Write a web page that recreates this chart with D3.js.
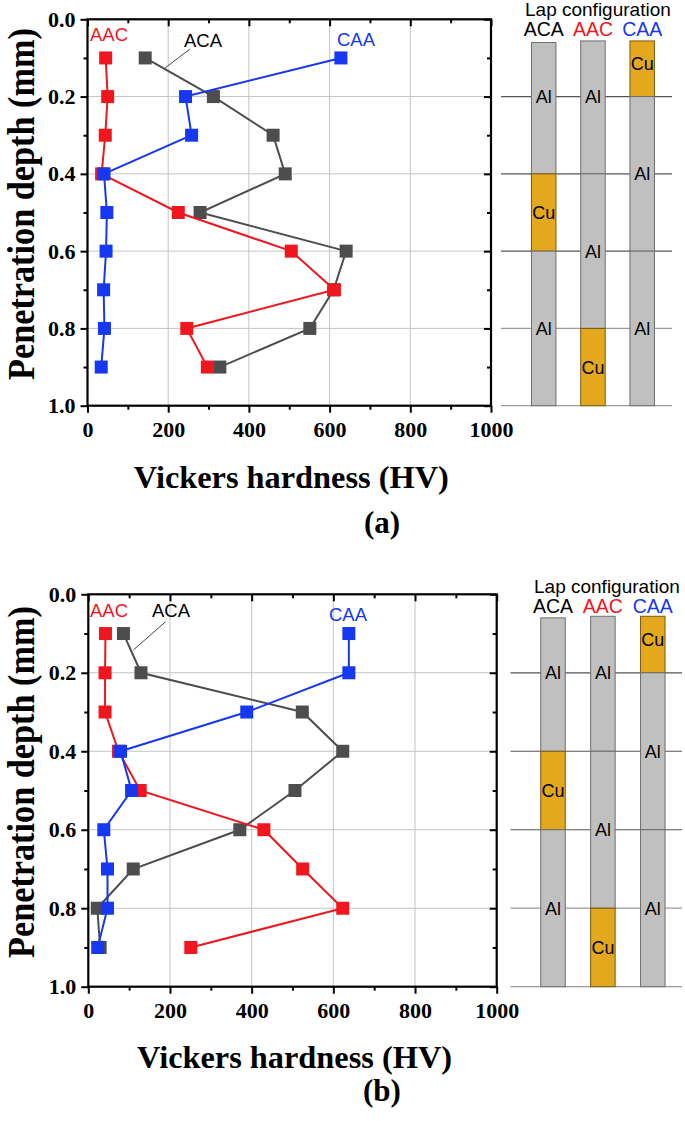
<!DOCTYPE html>
<html>
<head>
<meta charset="utf-8">
<script src="https://cdn.jsdelivr.net/npm/d3@7/dist/d3.min.js"></script>
<style>
  html, body { margin: 0; padding: 0; background: #fff; }
  svg { display: block; }
  .serif { font-family: "Liberation Serif", "Times New Roman", serif; font-weight: bold; }
  .sans { font-family: "Liberation Sans", Arial, sans-serif; }
</style>
</head>
<body>
<svg id="chart" width="685" height="1121"></svg>
<script>
// ---------------- DATA ----------------
const depths = [0.1, 0.2, 0.3, 0.4, 0.5, 0.6, 0.7, 0.8, 0.9];

// Panel (a)
const aACA = [143, 312, 460, 490, 279, 641, 610, 551, 328];
const aAAC = [45, 50, 44, 35, 225, 505, 612, 246, 297];
const aCAA = [628, 243, 258, 41, 48, 46, 40, 42, 34];

// Panel (b)
const bACA = [86, 129, 524, 623, 506, 371, 110, 22, 29];
const bAAC = [42, 41, 41, 74, 127, 430, 525, 623, 251];
const bCAA = [638, 638, 388, 79, 106, 38, 47, 47, 23];

const seriesNames = ["ACA", "AAC", "CAA"];
const xTickValues = [0, 200, 400, 600, 800, 1000];
const xMinorValues = [100, 300, 500, 700, 900];
const yTickValues = [0.0, 0.2, 0.4, 0.6, 0.8, 1.0];
const yMinorValues = [0.1, 0.3, 0.5, 0.7, 0.9];
const gridX = [200, 400, 600, 800];
const gridY = [0.2, 0.4, 0.6, 0.8];

const xTitle = "Vickers hardness (HV)";
const yTitle = "Penetration depth (mm)";
const panelLabels = ["(a)", "(b)"];
const configTitle = "Lap configuration";

// Lap configuration layers: [material, fromDepth, toDepth]
const layersACA = [["Al", 0.06, 0.4], ["Cu", 0.4, 0.6], ["Al", 0.6, 1.0]];
const layersAAC = [["Al", 0.056, 0.4], ["Al", 0.4, 0.8], ["Cu", 0.8, 1.0]];
const layersCAA = [["Cu", 0.056, 0.2], ["Al", 0.2, 0.6], ["Al", 0.6, 1.0]];
// material labels: [material, depth]
const labelsACA = [["Al", 0.2], ["Cu", 0.5], ["Al", 0.8]];
const labelsAAC = [["Al", 0.2], ["Al", 0.6], ["Cu", 0.9]];
const labelsCAA = [["Cu", 0.115], ["Al", 0.4], ["Al", 0.8]];
const refLines = [0.2, 0.4, 0.6, 0.8, 1.0];

// ---------------- STYLE ----------------
const colors = { ACA: "#4d4d4d", AAC: "#f0161e", CAA: "#1538f0" };
const headerColors = { ACA: "#000", AAC: "#f0161e", CAA: "#1538f0" };
const labelColors = { ACA: "#000", AAC: "#f0161e", CAA: "#1538f0" };
const matFill = { Al: "#c0c0c0", Cu: "#e3a81e" };
const matStroke = { Al: "#6e6e6e", Cu: "#7a5a10" };
const SERIF = '"Liberation Serif", "Times New Roman", serif';

const svg = d3.select("#chart");

function drawPanel(cfg) {
  const x = d3.scaleLinear().domain([0, 1000]).range([cfg.x0, cfg.x1]);
  const y = d3.scaleLinear().domain([0, 1]).range([cfg.y0, cfg.y1]);
  const g = svg.append("g");

  // grid
  g.append("g").selectAll("line").data(gridX).join("line")
    .attr("x1", d => x(d)).attr("x2", d => x(d))
    .attr("y1", cfg.y0).attr("y2", cfg.y1)
    .attr("stroke", "#c4c4c4").attr("stroke-width", 1);
  g.append("g").selectAll("line").data(gridY).join("line")
    .attr("y1", d => y(d)).attr("y2", d => y(d))
    .attr("x1", cfg.x0).attr("x2", cfg.x1)
    .attr("stroke", "#c4c4c4").attr("stroke-width", 1);

  // axes
  const fmtY = d3.format(".1f");
  const fmtX = d3.format("d");
  g.append("g").attr("transform", `translate(${cfg.x0},0)`)
    .call(d3.axisLeft(y).tickValues(yTickValues).tickFormat(fmtY).tickSize(7).tickPadding(5));
  g.append("g").attr("transform", `translate(${cfg.x0},0)`)
    .call(d3.axisLeft(y).tickValues(yMinorValues).tickFormat("").tickSize(4));
  g.append("g").attr("transform", `translate(0,${cfg.y1})`)
    .call(d3.axisBottom(x).tickValues(xTickValues).tickFormat(fmtX).tickSize(7).tickPadding(9));
  g.append("g").attr("transform", `translate(0,${cfg.y1})`)
    .call(d3.axisBottom(x).tickValues(xMinorValues).tickFormat("").tickSize(4));
  g.append("g").attr("transform", `translate(0,${cfg.y0})`)
    .call(d3.axisTop(x).tickValues(xTickValues).tickFormat("").tickSize(-7));
  g.append("g").attr("transform", `translate(0,${cfg.y0})`)
    .call(d3.axisTop(x).tickValues(xMinorValues).tickFormat("").tickSize(-4));
  g.append("g").attr("transform", `translate(${cfg.x1},0)`)
    .call(d3.axisRight(y).tickValues(yTickValues).tickFormat("").tickSize(-7));
  g.append("g").attr("transform", `translate(${cfg.x1},0)`)
    .call(d3.axisRight(y).tickValues(yMinorValues).tickFormat("").tickSize(-4));
  g.selectAll(".domain").remove();
  g.selectAll(".tick line").attr("stroke", "#000").attr("stroke-width", 2);
  g.selectAll(".tick text")
    .attr("font-family", SERIF).attr("font-weight", "bold")
    .attr("font-size", 22).attr("fill", "#000");

  // frame
  g.append("rect").attr("x", cfg.x0).attr("y", cfg.y0)
    .attr("width", cfg.x1 - cfg.x0).attr("height", cfg.y1 - cfg.y0)
    .attr("fill", "none").attr("stroke", "#000").attr("stroke-width", 2.2);

  // series (gray, red, blue order: blue on top)
  const order = ["ACA", "AAC", "CAA"];
  const line = d3.line().x(d => x(d[1])).y(d => y(d[0]));
  order.forEach(name => {
    const vals = cfg.data[name];
    const pts = depths.map((d, i) => [d, vals[i]]);
    g.append("path").datum(pts).attr("d", line)
      .attr("fill", "none").attr("stroke", colors[name]).attr("stroke-width", 2);
    g.append("g").selectAll("rect").data(pts).join("rect")
      .attr("x", d => x(d[1]) - 6.5).attr("y", d => y(d[0]) - 6.5)
      .attr("width", 13).attr("height", 13).attr("fill", colors[name]);
  });

  // series labels
  cfg.labels.forEach(l => {
    g.append("text").attr("class", "sans").attr("x", l.x).attr("y", l.y)
      .attr("font-size", 18.5).attr("fill", labelColors[l.name])
      .text(l.name);
  });
  g.append("line").attr("x1", cfg.leader[0]).attr("y1", cfg.leader[1])
    .attr("x2", cfg.leader[2]).attr("y2", cfg.leader[3])
    .attr("stroke", "#333").attr("stroke-width", 0.9);

  // axis titles
  g.append("text").attr("class", "serif")
    .attr("transform", `translate(${cfg.yTitleX},${cfg.yTitleY}) rotate(-90)`)
    .attr("text-anchor", "middle").attr("font-size", 37)
    .attr("textLength", 352).attr("lengthAdjust", "spacingAndGlyphs")
    .text(yTitle);
  g.append("text").attr("class", "serif")
    .attr("x", (cfg.x0 + cfg.x1) / 2 + 2).attr("y", cfg.xTitleY)
    .attr("text-anchor", "middle").attr("font-size", 32)
    .attr("textLength", 315).attr("lengthAdjust", "spacingAndGlyphs")
    .text(xTitle);
  g.append("text").attr("class", "serif")
    .attr("x", 382).attr("y", cfg.panelY)
    .attr("text-anchor", "middle").attr("font-size", 31)
    .text(cfg.panel);

  // ----- Lap configuration schematic -----
  const cx = d3.scalePoint().domain(seriesNames).range(cfg.colRange);
  const colW = 24.5;
  const s = g.append("g");
  s.append("text").attr("class", "sans").attr("x", cfg.confX).attr("y", cfg.confY)
    .attr("font-size", 19).attr("fill", "#000").text(configTitle);
  s.selectAll("text.hdr").data(seriesNames).join("text")
    .attr("class", "sans hdr").attr("x", d => cx(d)).attr("y", cfg.hdrY)
    .attr("text-anchor", "middle").attr("font-size", 19.5)
    .attr("fill", d => headerColors[d]).text(d => d);
  s.selectAll("line.ref").data(refLines).join("line")
    .attr("class", "ref")
    .attr("x1", cfg.refX[0]).attr("x2", cfg.refX[1])
    .attr("y1", d => y(d)).attr("y2", d => y(d))
    .attr("stroke", d => d >= 0.8 ? "#9a9a9a" : "#555").attr("stroke-width", 1.2);
  const layerSets = { ACA: layersACA, AAC: layersAAC, CAA: layersCAA };
  const labelSets = { ACA: labelsACA, AAC: labelsAAC, CAA: labelsCAA };
  seriesNames.forEach(name => {
    s.append("g").selectAll("rect").data(layerSets[name]).join("rect")
      .attr("x", cx(name) - colW / 2).attr("width", colW)
      .attr("y", d => y(d[1])).attr("height", d => y(d[2]) - y(d[1]))
      .attr("fill", d => matFill[d[0]]).attr("stroke", d => matStroke[d[0]])
      .attr("stroke-width", 1);
    s.append("g").selectAll("text").data(labelSets[name]).join("text")
      .attr("class", "sans").attr("x", cx(name)).attr("y", d => y(d[1]))
      .attr("dy", "0.36em").attr("text-anchor", "middle")
      .attr("font-size", 18).attr("fill", "#000").text(d => d[0]);
  });
}

drawPanel({
  x0: 87.5, x1: 491, y0: 19.3, y1: 405.7,
  data: { ACA: aACA, AAC: aAAC, CAA: aCAA },
  labels: [{ name: "AAC", x: 90, y: 40.7 }, { name: "ACA", x: 184, y: 46.7 }, { name: "CAA", x: 337, y: 46 }],
  leader: [190, 49, 165, 68],
  yTitleX: 33.5, yTitleY: 204, xTitleY: 488, panel: panelLabels[0], panelY: 533,
  colRange: [543.7, 642.2], confX: 525, confY: 16, hdrY: 36, refX: [501, 672]
});

drawPanel({
  x0: 88.3, x1: 496.7, y0: 594.3, y1: 986.7,
  data: { ACA: bACA, AAC: bAAC, CAA: bCAA },
  labels: [{ name: "AAC", x: 90, y: 617.3 }, { name: "ACA", x: 152, y: 617.3 }, { name: "CAA", x: 329, y: 620.7 }],
  leader: [165.7, 621.7, 133.3, 650],
  yTitleX: 34, yTitleY: 782, xTitleY: 1068, panel: panelLabels[1], panelY: 1101,
  colRange: [553, 652.8], confX: 534, confY: 593, hdrY: 613, refX: [510.5, 682]
});
</script>
</body>
</html>
